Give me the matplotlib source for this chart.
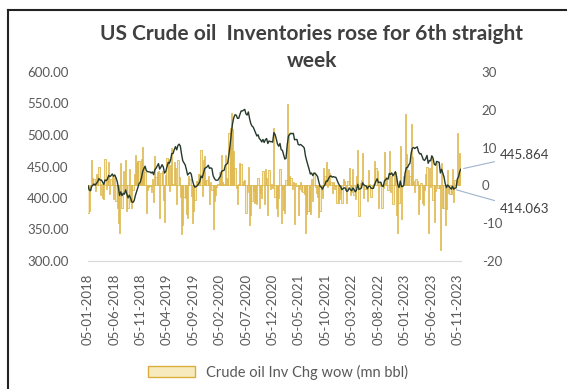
import pandas as pd
import matplotlib.pyplot as plt
from matplotlib.patches import Patch
from matplotlib.lines import Line2D

plt.rcParams['font.family'] = ['Lato', 'DejaVu Sans']
plt.rcParams['axes.unicode_minus'] = False

# weekly crude inventory (mn bbl)
inv_2018 = [419.5, 412.7, 411.6, 418.4, 420.3, 422.2, 420.4, 423.5, 425.9, 430.9, 428.3, 428.6, 425.3,
            421.6, 428.6, 427.6, 429.7, 436.0, 433.8, 435.6, 438.1, 434.5, 436.6, 432.4, 426.5, 416.6,
            404.0, 409.8, 403.7, 407.5, 406.1, 412.9, 406.1, 400.2, 404.5, 400.2, 394.1, 393.0, 395.9,
            404.0, 410.0, 416.4, 422.8, 425.0, 432.0, 442.1, 446.9, 450.5, 443.2, 442.0, 441.5, 441.4]
inv_2019 = [439.7, 441.4, 437.1, 445.0, 447.2, 450.8, 454.5, 445.9, 449.1, 452.9, 449.1, 439.5, 442.3,
            449.5, 456.6, 455.2, 460.6, 470.6, 470.6, 476.8, 481.5, 476.5, 483.3, 485.5, 482.4, 469.6,
            459.0, 455.9, 452.5, 445.0, 436.5, 438.9, 440.5, 437.8, 427.8, 420.9, 417.1, 418.3, 419.5,
            422.6, 425.6, 434.9, 432.2, 438.9, 446.8, 448.0, 449.4, 452.0, 447.1, 447.9, 446.8, 435.3]
inv_2020 = [431.1, 428.5, 428.1, 428.5, 432.0, 434.4, 442.5, 443.3, 443.8, 451.8, 453.7, 455.4, 469.2,
            484.4, 503.6, 518.6, 527.6, 532.2, 531.5, 526.5, 526.5, 532.4, 538.1, 538.1, 539.3, 540.7,
            533.5, 531.7, 536.6, 526.0, 518.1, 514.1, 512.5, 507.8, 503.3, 498.4, 500.4, 494.4, 492.4,
            489.0, 492.9, 488.1, 492.4, 494.4, 486.5, 490.5, 489.5, 489.5, 488.7, 503.9, 500.7, 493.5]
inv_2021 = [485.5, 482.2, 486.6, 476.7, 475.7, 469.0, 461.8, 463.1, 484.7, 498.5, 500.9, 502.8, 501.9,
            502.7, 492.4, 493.0, 492.8, 485.1, 484.1, 485.0, 483.4, 481.7, 479.3, 466.7, 459.1, 452.3,
            445.5, 438.0, 439.7, 435.6, 439.2, 438.8, 436.8, 433.8, 425.4, 418.5, 417.4, 414.0, 418.5,
            420.9, 427.0, 426.5, 430.8, 434.1, 435.1, 433.0, 434.0, 433.1, 432.9, 428.3, 423.6, 420.0, 417.9]
inv_2022 = [413.3, 415.1, 416.2, 415.1, 410.4, 411.5, 416.0, 413.4, 411.6, 415.9, 413.4, 409.9,
            412.4, 421.8, 413.7, 414.4, 415.7, 424.2, 420.8, 419.8, 418.8, 414.7, 418.7, 418.7, 415.6,
            415.1, 415.6, 422.1, 426.6, 430.5, 424.5, 425.1, 425.0, 419.1, 418.3, 427.2, 429.3, 431.2, 430.0,
            439.1, 437.4, 439.9, 435.1, 438.2, 441.8, 433.9, 421.3, 416.7, 427.0, 418.2, 418.2, 420.6]
inv_2023 = [439.6, 448.0, 448.5, 452.7, 455.1, 471.4, 479.0, 480.2, 478.5, 480.1, 481.2, 473.7, 470.0,
            470.6, 466.0, 460.9, 459.6, 462.6, 467.6, 455.1, 459.6, 459.1, 467.0, 463.2, 453.6, 452.1,
            458.0, 457.3, 456.7, 439.7, 445.6, 439.6, 433.5, 422.9, 416.6, 420.6, 418.5, 416.3, 414.1,
            418.5, 414.063, 415.5, 416.3, 430.2, 433.8, 442.5, 445.864]

# weekly change (mn bbl)
chg_2018 = [-7.4, -6.9, -1.1, 6.8, 1.9, 1.8, -1.6, 3.0, 2.4, 5.0, -2.6, 0.3, -3.3,
            -3.7, 7.0, -1.0, 2.1, 6.3, -2.2, 1.8, 2.5, -3.6, 2.1, -4.2, -5.9, -9.9,
            -12.6, 5.8, -6.1, 3.8, -1.4, 6.8, -6.8, -5.9, 4.3, -4.3, -6.1, -1.1, 2.9,
            8.1, 6.0, 6.4, 6.4, 2.2, 7.0, 10.1, 4.8, 3.6, -7.3, -1.2, -0.5, -0.1]
chg_2019 = [-1.7, 1.7, -4.3, 7.9, 2.2, 3.6, 3.7, -8.6, 3.2, 3.8, -3.8, -9.6, 2.8,
            7.2, 7.1, -1.4, 5.4, 10.0, 0.4, 6.2, 4.7, -5.0, 6.8, 2.2, -3.1, -12.8,
            -10.6, -3.1, -3.4, -7.5, -8.5, 2.4, 1.6, -2.7, -10.0, -6.9, -3.8, 1.2, 1.2,
            3.1, 3.0, 9.3, -2.7, 6.7, 7.9, 1.2, 1.4, 2.6, -4.9, 0.8, -1.1, -11.5]
chg_2020 = [-4.2, -2.6, -0.4, 0.4, 3.5, 2.4, 8.1, 0.8, 0.5, 8.0, 1.9, 1.7, 13.8,
            15.2, 19.2, 15.0, 9.0, 4.6, -0.7, -5.0, 0.3, 5.9, 5.7, 0.4, 1.2, 1.4,
            -7.2, -1.8, 4.9, -10.6, -7.9, -4.0, -1.6, -4.7, -4.5, -4.9, 2.0, -6.0, -2.0,
            -3.4, 3.9, -4.8, 4.3, 2.0, -7.9, 4.0, -1.0, 0.3, -0.8, 15.2, -3.2, -6.1]
chg_2021 = [-8.0, -3.3, 4.4, -9.9, -1.0, -6.6, -7.3, 1.3, 21.6, 13.8, 2.4, 1.9, -0.9,
            0.8, -10.3, 0.6, -0.2, -7.7, -1.0, 0.9, -1.6, -1.7, -2.4, -12.6, -7.6, -6.8,
            -6.8, -7.5, 1.7, -4.1, 3.6, -0.4, -2.0, -3.0, -8.4, -6.9, -1.1, -3.4, 4.5,
            2.4, 6.1, -0.5, 4.3, 3.3, 1.0, -2.1, 1.0, -0.9, -0.2, -4.6, -4.7, -3.6, -2.1]
chg_2022 = [-4.6, 1.8, 1.1, -1.1, -4.7, 1.1, 4.5, -2.6, -1.8, 4.3, -2.5, -3.5,
            2.5, 9.4, -8.1, 0.7, 1.3, 8.5, -3.4, -1.0, -1.0, -4.1, 4.0, 0.3, -3.1,
            -0.5, 0.5, 6.5, 4.5, 3.9, -6.0, 0.6, -0.1, -5.9, -0.8, 8.9, 2.1, 1.9, -1.2,
            9.1, -1.7, 2.5, -4.8, 3.1, 3.6, -7.9, -12.6, -4.6, 10.3, -8.8, 0.2, 2.4]
chg_2023 = [19.0, 8.4, 0.5, 4.2, 2.4, 16.3, 7.6, 1.2, -1.7, 1.6, 1.1, -7.5, -3.7,
            0.6, -4.6, -5.1, -1.3, 3.0, 5.0, -12.5, 4.5, -0.5, 7.9, -3.8, -9.6, -1.5,
            5.9, -0.7, -0.6, -17.0, 5.9, -6.0, -6.1, -10.6, -6.3, 4.0, -2.1, -2.2, -2.2,
            4.4, -4.4, 1.4, 0.8, 13.9, 3.6, 8.7, 3.4]

tick_labels = ['05-01-2018', '05-06-2018', '05-11-2018', '05-04-2019', '05-09-2019',
               '05-02-2020', '05-07-2020', '05-12-2020', '05-05-2021', '05-10-2021',
               '05-03-2022', '05-08-2022', '05-01-2023', '05-06-2023', '05-11-2023']

inv = inv_2018 + inv_2019 + inv_2020 + inv_2021 + inv_2022 + inv_2023
chg = chg_2018 + chg_2019 + chg_2020 + chg_2021 + chg_2022 + chg_2023
dates = pd.date_range('2018-01-05', periods=len(inv), freq='7D')
tick_dates = pd.to_datetime(tick_labels, format='%d-%m-%Y')

W, H = 567, 389
fig = plt.figure(figsize=(W / 100, H / 100), dpi=100)
ax = fig.add_axes([88 / W, 1 - 261 / H, (461 - 88) / W, (261 - 72) / H])
ax2 = ax.twinx()

# weekly change bars on the right axis
ax2.bar(dates, chg, width=7, color='#f7ebbd', edgecolor='#d9ae3a', linewidth=0.5)
ax2.set_ylim(-20, 30)
ax2.set_yticks(range(-20, 31, 10))

# inventory line on the left axis, drawn above the bars
ax.plot(dates, inv, color='#263a2c', linewidth=1.0)
ax.set_ylim(300, 600)
ax.set_yticks(range(300, 601, 50))
ax.set_yticklabels([f'{v:.2f}' for v in range(300, 601, 50)])
ax.set_zorder(ax2.get_zorder() + 1)
ax.patch.set_visible(False)

ax.set_xlim(dates[0], dates[-1])
ax.set_xticks(tick_dates)
ax.set_xticklabels(tick_labels, rotation=90)

for a in (ax, ax2):
    for s in a.spines.values():
        s.set_visible(False)
    a.tick_params(length=0, labelsize=9.5, colors='#595959')
ax.spines['bottom'].set_visible(True)
ax.spines['bottom'].set_color('#d9d9d9')
ax.tick_params(axis='x', pad=9)
ax.tick_params(axis='y', pad=14)
ax2.tick_params(axis='y', pad=15)

# data labels with leader lines
for d, v, ty in [(dates[-1], inv[-1], 155), (dates[-7], inv[-7], 209)]:
    ax.annotate(f'{v:.3f}', xy=(d, v), xycoords='data',
                xytext=(500, H - ty), textcoords='figure pixels',
                ha='left', va='center', fontsize=9.5, color='#404040',
                arrowprops=dict(arrowstyle='-', color='#9fb3cc', lw=0.8))

fig.text(312 / W, 1 - 34 / H, 'US Crude oil  Inventories rose for 6th straight',
         ha='center', va='center', fontsize=15, fontweight='bold', color='#404040')
fig.text(312 / W, 1 - 61 / H, 'week', ha='center', va='center',
         fontsize=15, fontweight='bold', color='#404040')

fig.legend(handles=[Patch(facecolor='#f7ebbd', edgecolor='#d9ae3a')],
           labels=['Crude oil Inv Chg wow (mn bbl)'], loc='center',
           bbox_to_anchor=(278 / W, 1 - 372 / H), frameon=False, fontsize=10.5,
           handlelength=3.2, handleheight=0.7, labelcolor='#595959')

# outer frame (top and left edges visible in the crop)
fig.add_artist(Line2D([8 / W, 1], [1 - 10 / H, 1 - 10 / H], color='#222222', lw=1.5))
fig.add_artist(Line2D([8 / W, 8 / W], [0, 1 - 10 / H], color='#222222', lw=1.5))

fig.savefig('out.png', dpi=100)
